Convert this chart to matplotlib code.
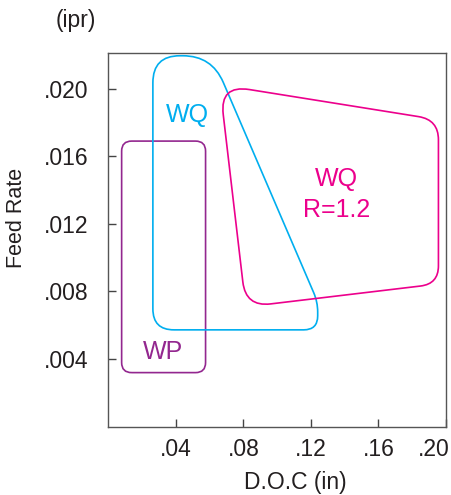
import numpy as np
import matplotlib
matplotlib.use("Agg")
import matplotlib.pyplot as plt
from matplotlib.path import Path
from matplotlib.patches import PathPatch
from matplotlib.transforms import IdentityTransform, ScaledTranslation

plt.rcParams['font.family'] = ['Liberation Sans', 'DejaVu Sans']

# --- Data (D.O.C in inches, feed rate in ipr) ---
x_ticks = [0.04, 0.08, 0.12, 0.16, 0.20]
x_labels = ['.04', '.08', '.12', '.16', '.20']
y_ticks = [0.004, 0.008, 0.012, 0.016, 0.020]
y_labels = ['.004', '.008', '.012', '.016', '.020']

# region outlines (corner points of each chip-breaker zone)
wp_doc = [0.0079, 0.0079, 0.0576, 0.0576]
wp_feed = [0.0032, 0.0169, 0.0169, 0.0032]

wq_doc = [0.0264, 0.0264, 0.0613, 0.1240, 0.1240]
wq_feed = [0.00573, 0.02195, 0.02195, 0.00738, 0.00573]

wqr_doc = [0.0660, 0.1955, 0.1955, 0.0814]
wqr_feed = [0.02023, 0.01816, 0.00845, 0.00709]

# corner rounding in pixels
wp_radii = [10, 10, 10, 10]
wq_radii = [21, 27, 29, 10, 14]
wqr_radii = [30, 20, 18, 25]


def rounded_path(pts, radii):
    n = len(pts)
    verts, codes = [], []
    for i in range(n):
        p0, p1, p2 = pts[i - 1], pts[i], pts[(i + 1) % n]
        v1, v2 = p0 - p1, p2 - p1
        l1, l2 = np.hypot(*v1), np.hypot(*v2)
        r = radii[i]
        a = p1 + v1 / l1 * min(r, l1 / 2)
        b = p1 + v2 / l2 * min(r, l2 / 2)
        verts.append(a)
        codes.append(Path.MOVETO if i == 0 else Path.LINETO)
        verts += [p1, b]
        codes += [Path.CURVE3, Path.CURVE3]
    verts.append(verts[0])
    codes.append(Path.LINETO)
    return Path(verts, codes)


fig = plt.figure(figsize=(4.52, 4.95), dpi=100)
ax = fig.add_axes([0.2396, 0.138, 0.7472, 0.7545])
ax.set_xlim(0, 0.20)
ax.set_ylim(0, 0.0221)

ax.set_xticks(x_ticks)
ax.set_xticklabels(x_labels)
ax.set_yticks(y_ticks)
ax.set_yticklabels(y_labels)
ax.tick_params(direction='in', length=6, width=1, color='#444444',
               labelsize=16.5, labelcolor='#231f20')
ax.tick_params(axis='x', pad=8)
ax.tick_params(axis='y', pad=14)
for s in ax.spines.values():
    s.set_color('#555555')
    s.set_linewidth(1)

# last x label sits flush with the right edge
last = ax.get_xticklabels()[-1]
last.set_horizontalalignment('right')
last.set_transform(last.get_transform() + ScaledTranslation(4 / 100, 0, fig.dpi_scale_trans))

fig.canvas.draw()
for xs, ys, radii, col in [(wp_doc, wp_feed, wp_radii, '#93278f'),
                           (wq_doc, wq_feed, wq_radii, '#00aeef'),
                           (wqr_doc, wqr_feed, wqr_radii, '#ec008c')]:
    pts = ax.transData.transform(np.column_stack([xs, ys]))
    path = rounded_path(pts, radii)
    ax.add_patch(PathPatch(path, transform=IdentityTransform(), facecolor='none',
                           edgecolor=col, lw=1.2, clip_on=False))

ax.text(0.0466, 0.01845, 'WQ', color='#00aeef', fontsize=18, ha='center', va='center')
ax.text(0.1351, 0.01466, 'WQ', color='#ec008c', fontsize=18, ha='center', va='center')
ax.text(0.1351, 0.01283, 'R=1.2', color='#ec008c', fontsize=18, ha='center', va='center')
ax.text(0.0324, 0.00442, 'WP', color='#93278f', fontsize=18, ha='center', va='center')

fig.text(76 / 452, 1 - 20 / 495, '(ipr)', fontsize=16.5, color='#231f20',
         ha='center', va='center')
fig.text(17 / 452, 1 - 218 / 495, 'Feed Rate', fontsize=15.5, color='#231f20',
         ha='center', va='center', rotation=90)
fig.text(295 / 452, 1 - 482 / 495, 'D.O.C (in)', fontsize=16.5, color='#231f20',
         ha='center', va='center')

fig.savefig('out.png', dpi=100)
